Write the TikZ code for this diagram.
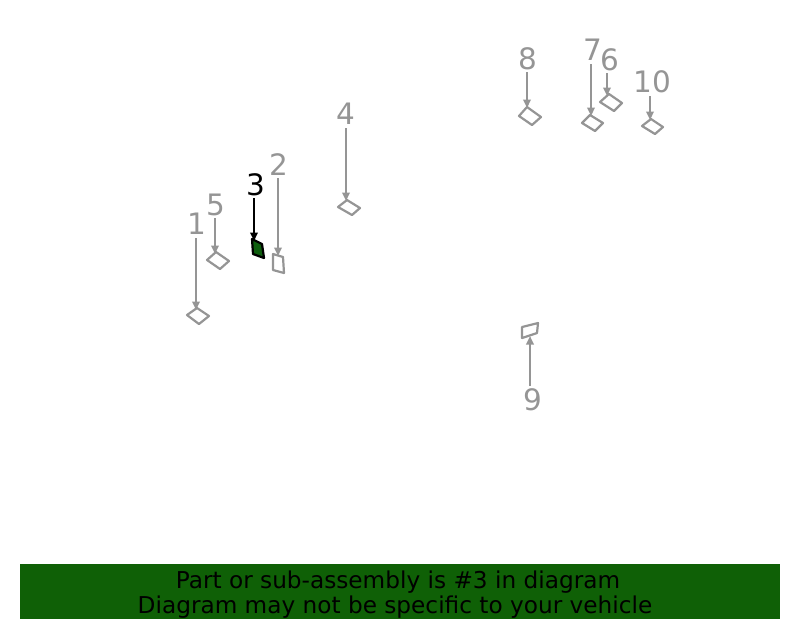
\documentclass[tikz,border=0pt]{standalone}
\usepackage{fontspec}
\setmainfont{DejaVu Sans}
\usetikzlibrary{arrows.meta}
\definecolor{partgray}{HTML}{959595}
\definecolor{bargreen}{HTML}{0F6006}
\definecolor{partgreen}{HTML}{0E5E0E}
\begin{document}
\begin{tikzpicture}[x=1pt,y=-1pt,
  lbl/.style={text=partgray,font=\fontsize{29.5}{30}\selectfont,inner sep=0pt},
  lblsel/.style={text=black,font=\fontsize{29.5}{30}\selectfont,inner sep=0pt},
  con/.style={draw=partgray,line width=2.2pt,-{Triangle[length=8.5pt,width=7.5pt]}},
  consel/.style={draw=black,line width=2.2pt,-{Triangle[length=8.5pt,width=7.5pt]}},
  part/.style={draw=partgray,line width=2.2pt,line join=round,fill=white},
  partsel/.style={draw=black,line width=2.2pt,line join=round,fill=partgreen},
  bartext/.style={font=\fontsize{23.2}{25}\selectfont,text=black,inner sep=0pt,anchor=base}
]
\useasboundingbox (0,0) rectangle (800,625);
% label 1
\node[lbl] (l1) at (197,224) {1};
\coordinate (a1) at (196,310);
\draw[part] (197,308) -- (209,316) -- (199,324) -- (187,315) -- cycle;
\draw[con] (196,238) -- (a1);
% label 5
\node[lbl] (l5) at (216,205) {5};
\coordinate (a5) at (215,254);
\draw[part] (216,252) -- (229,261) -- (220,269) -- (207,260) -- cycle;
\draw[con] (215,218) -- (a5);
% label 3 (selected)
\node[lblsel] (l3) at (256,185) {3};
\coordinate (a3) at (254,241);
\draw[partsel] (252,239) -- (262,244) -- (264,258) -- (253,254) -- cycle;
\draw[consel] (254,198) -- (a3);
% label 2
\node[lbl] (l2) at (279,165) {2};
\coordinate (a2) at (278,256);
\draw[part] (273,254) -- (283,257) -- (284,273) -- (273,270) -- cycle;
\draw[con] (278,178) -- (a2);
% label 4
\node[lbl] (l4) at (346,114) {4};
\coordinate (a4) at (346,201);
\draw[part] (347,200) -- (360,208) -- (352,215) -- (338,207) -- cycle;
\draw[con] (346,128) -- (a4);
% label 8
\node[lbl] (l8) at (528,59) {8};
\coordinate (a8) at (527,108);
\draw[part] (527,107) -- (541,117) -- (532,125) -- (519,116) -- cycle;
\draw[con] (527,72) -- (a8);
% label 7
\node[lbl] (l7) at (593,50) {7};
\coordinate (a7) at (591,116);
\draw[part] (590,115) -- (603,123) -- (595,131) -- (582,123) -- cycle;
\draw[con] (591,64) -- (a7);
% label 6
\node[lbl] (l6) at (610,60) {6};
\coordinate (a6) at (607,96);
\draw[part] (609,94) -- (622,103) -- (614,111) -- (600,102) -- cycle;
\draw[con] (607,73) -- (a6);
% label 10
\node[lbl] (l10) at (652,82) {10};
\coordinate (a10) at (650,120);
\draw[part] (651,119) -- (663,127) -- (655,134) -- (642,126) -- cycle;
\draw[con] (650,96) -- (a10);
% label 9
\node[lbl] (l9) at (533,400) {9};
\coordinate (a9) at (530,336);
\draw[part] (522,327) -- (538,323) -- (537,333) -- (522,338) -- cycle;
\draw[con] (530,386) -- (a9);
% bottom bar
\fill[bargreen] (20,564) rectangle (780,619);
\node[bartext] (bar1) at (398,588) {Part or sub-assembly is \#3 in diagram};
\node[bartext] (bar2) at (395,613) {Diagram may not be specific to your vehicle};
\end{tikzpicture}
\end{document}
